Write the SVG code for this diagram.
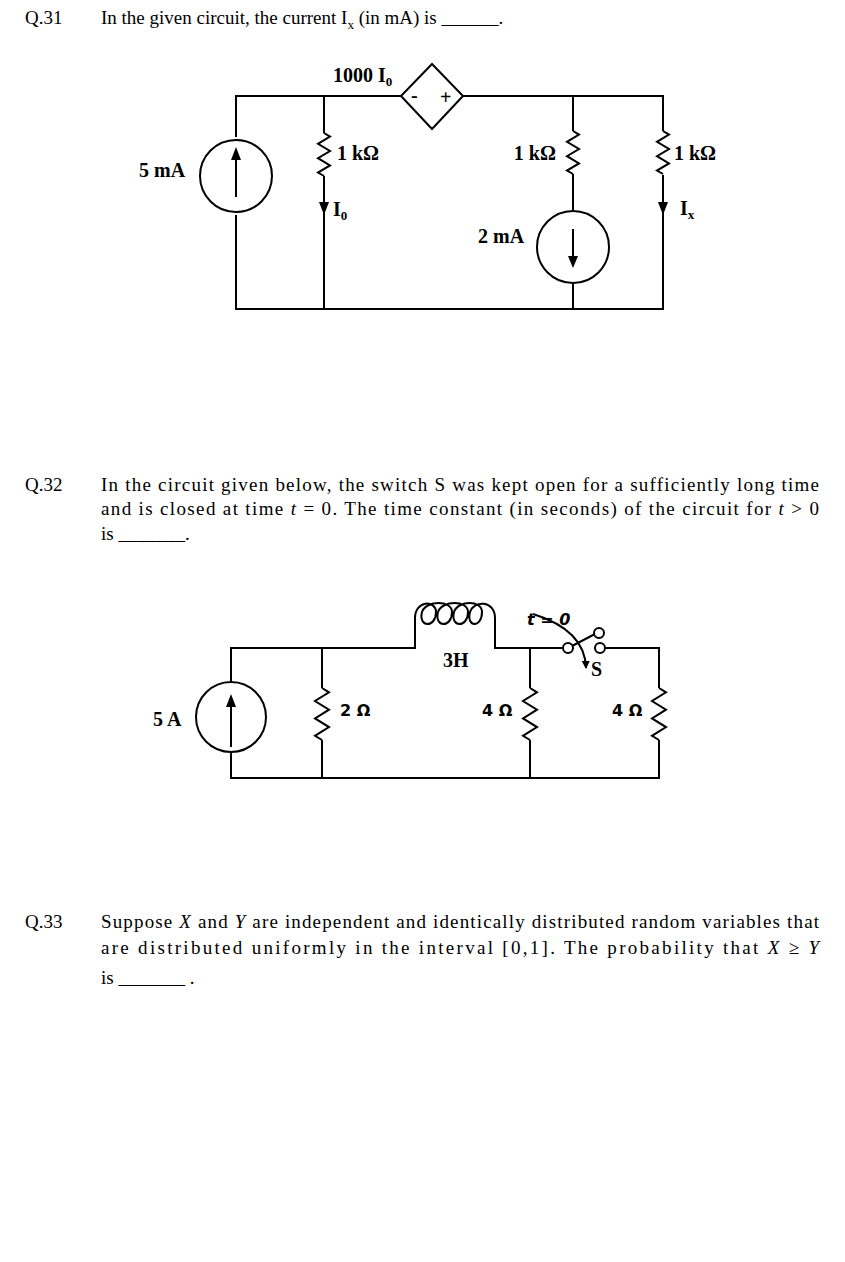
<svg xmlns="http://www.w3.org/2000/svg" width="845" height="1262" viewBox="0 0 845 1262">
<style>
.t{font-family:"Liberation Serif",serif;font-size:19px;fill:#000}
.b{font-family:"Liberation Serif",serif;font-size:20px;font-weight:bold;fill:#000}
.s{font-family:"DejaVu Sans",sans-serif;font-size:16px;font-weight:bold;fill:#000}
.w{fill:none;stroke:#000;stroke-width:2}
</style>
<defs><marker id="ah" markerWidth="8" markerHeight="8" refX="7" refY="4" orient="auto" markerUnits="userSpaceOnUse"><path d="M0,0 L8,4 L0,8z" fill="#000"/></marker></defs>
<rect width="845" height="1262" fill="#fff"/>
<text class="t" x="25" y="24">Q.31</text>
<text class="t" x="101" y="24">In the given circuit, the current I<tspan font-size="13" dy="5">x</tspan><tspan dy="-5"> (in mA) is ______.</tspan></text>
<g id="conn1" class="w">
<path d="M236,137 V96 H401 M463,96 H663 V131 M663,175 V309 H236 V215"/>
<path d="M324,96 V133 M324,176 V309"/>
<path d="M573,96 V131 M573,174 V211 M573,283 V309"/>
<path d="M324,133 l6,3.6 -12,7.2 12,7.2 -12,7.2 12,7.2 -12,7.2 6,3.4"/>
<path d="M573,131 l6,3.6 -12,7.2 12,7.2 -12,7.2 12,7.2 -12,7.2 6,3.4"/>
<path d="M663,131 l6,3.6 -12,7.2 12,7.2 -12,7.2 12,7.2 -12,7.2 6,3.4"/>
</g>
<g id="src5mA"><circle class="w" cx="236" cy="176" r="36"/><path d="M236,197 V158" stroke="#000" stroke-width="2"/><path d="M231,160 L236,147 L241,160z"/></g>
<g id="dep"><path class="w" d="M432,64 L463,96 L432,129 L401,96z"/><text class="b" x="411" y="102" font-size="16">-</text><text class="b" x="440" y="104" font-size="18">+</text></g>
<g id="src2mA"><circle class="w" cx="573" cy="247" r="36"/><path d="M573,229 V258" stroke="#000" stroke-width="2"/><path d="M568,256 L573,268 L578,256z"/></g>
<path d="M319,202 L324,215 L329,202z"/><path d="M658,202 L663,215 L668,202z"/>
<text class="b" x="333" y="82">1000 I<tspan font-size="13" dy="4">0</tspan></text>
<text class="b" x="337" y="160">1 kΩ</text>
<text class="b" x="139" y="177">5 mA</text>
<text class="b" x="333" y="216">I<tspan font-size="13" dy="4">0</tspan></text>
<text class="b" x="556" y="160" text-anchor="end">1 kΩ</text>
<text class="b" x="478" y="243">2 mA</text>
<text class="b" x="674" y="160">1 kΩ</text>
<text class="b" x="680" y="215">I<tspan font-size="13" dy="4">x</tspan></text>

<text class="t" x="25" y="491">Q.32</text>
<text class="t" x="101" y="491" textLength="718" lengthAdjust="spacing">In the circuit given below, the switch S was kept open for a sufficiently long time</text>
<text class="t" x="101" y="515" textLength="718" lengthAdjust="spacing">and is closed at time <tspan font-style="italic">t</tspan> = 0. The time constant (in seconds) of the circuit for <tspan font-style="italic">t</tspan> &gt; 0</text>
<text class="t" x="101" y="540">is _______.</text>
<g id="conn2" class="w">
<path d="M231,682 V648 H415 V618 M495,618 V648 H563 M604,648 H659 V688 M659,740 V778 H231 V752"/>
<path d="M322,648 V688 M322,740 V778"/>
<path d="M530,648 V688 M530,740 V778"/>
<path d="M322,688 l7,4.3 -14,8.7 14,8.7 -14,8.7 14,8.7 -14,8.7 7,4.2"/>
<path d="M530,688 l7,4.3 -14,8.7 14,8.7 -14,8.7 14,8.7 -14,8.7 7,4.2"/>
<path d="M659,688 l7,4.3 -14,8.7 14,8.7 -14,8.7 14,8.7 -14,8.7 7,4.2"/>
<path d="M415,618 C415,600 436,600 436,612 C436,628 418,628 422,612 C426,600 452,600 452,612 C452,628 434,628 438,612 C442,600 468,600 468,612 C468,628 450,628 454,612 C458,600 482,600 482,612 C482,628 466,628 470,612 C474,600 495,600 495,618"/>
<path d="M572,646 L595,634"/>
<path d="M533,614 Q585,630 586,668" marker-end="url(#ah)"/>
</g>
<g id="sw" class="w" stroke-width="1.5"><circle cx="568" cy="648" r="5" fill="#fff"/><circle cx="599" cy="633" r="5" fill="#fff"/><circle cx="600" cy="648" r="5" fill="#fff"/></g>
<g id="src5A"><circle class="w" cx="231" cy="717" r="35"/><path d="M231,747 V705" stroke="#000" stroke-width="2"/><path d="M226,707 L231,694 L236,707z"/></g>
<text class="s" x="527" y="625" font-size="14" font-style="italic">t = 0</text>
<text class="b" x="591" y="676">S</text>
<text class="b" x="443" y="667">3H</text>
<text class="s" x="340" y="716">2 Ω</text>
<text class="s" x="482" y="716">4 Ω</text>
<text class="s" x="612" y="716">4 Ω</text>
<text class="b" x="153" y="726">5 A</text>

<text class="t" x="25" y="928">Q.33</text>
<text class="t" x="101" y="928" textLength="718" lengthAdjust="spacing">Suppose <tspan font-style="italic">X</tspan> and <tspan font-style="italic">Y</tspan> are independent and identically distributed random variables that</text>
<text class="t" x="101" y="954" textLength="718" lengthAdjust="spacing">are distributed uniformly in the interval [0,1]. The probability that <tspan font-style="italic">X</tspan> ≥ <tspan font-style="italic">Y</tspan></text>
<text class="t" x="101" y="984">is _______ .</text>
</svg>
